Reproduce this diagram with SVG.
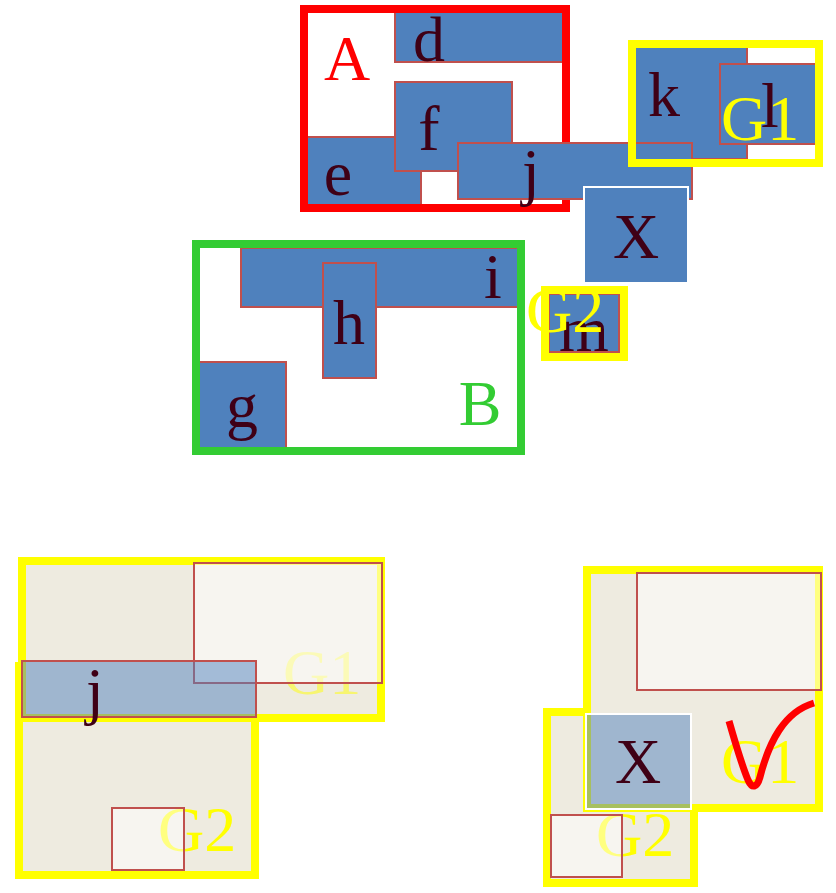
<svg xmlns="http://www.w3.org/2000/svg" width="836" height="893" viewBox="0 0 836 893">
  <style>
    .lbl { font-family: "Liberation Serif", "Times New Roman", serif; font-size: 64px; }
    .node { fill: #4f81bd; stroke: #c0504d; stroke-width: 2; }
    .nodex { fill: #4f81bd; stroke: #ffffff; stroke-width: 2; }
    .ink { fill: #3f0016; text-anchor: middle; }
    .ylw { fill: #ffff00; }
    .frame { fill: none; stroke-width: 8; }
    .region { fill: #eeebe0; stroke: #ffff00; stroke-width: 8; }
    .ghost { fill: #ffffff; fill-opacity: 0.5; stroke: #c0504d; stroke-width: 2; }
    .ghostb { fill: #4f81bd; fill-opacity: 0.5; stroke: #c0504d; stroke-width: 2; }
    .ghostx { fill: #4f81bd; fill-opacity: 0.5; stroke: #ffffff; stroke-width: 2; }
  </style>

  <!-- cluster A -->
  <g id="A">
    <rect id="d" class="node" x="395" y="12" width="168" height="50"/>
    <rect id="e" class="node" x="307" y="137" width="114" height="70"/>
    <rect id="f" class="node" x="395" y="82" width="117" height="89"/>
    <text class="lbl ink" x="429" y="61">d</text>
    <text class="lbl ink" x="429" y="150">f</text>
    <text class="lbl ink" x="338" y="195">e</text>
    <text class="lbl" x="347" y="80" fill="#ff0000" text-anchor="middle">A</text>
    <rect class="frame" x="304" y="9" width="262" height="199" stroke="#ff0000"/>
  </g>

  <!-- group G1 (top) -->
  <g id="G1">
    <rect id="k" class="node" x="634" y="46" width="113" height="113"/>
    <rect id="l" class="node" x="720" y="64" width="97" height="80"/>
    <text class="lbl ylw" x="721" y="140">G1</text>
    <text class="lbl ink" x="664" y="116">k</text>
    <text class="lbl ink" x="770" y="127">l</text>
  </g>

  <!-- node j, spans A and G1 -->
  <g id="j">
    <rect class="node" x="458" y="143" width="234" height="56"/>
    <text class="lbl ink" x="531" y="193">j</text>
  </g>

  <g id="G1-frame">
    <rect class="frame" x="632" y="44" width="187" height="119" stroke="#ffff00"/>
  </g>

  <!-- node X -->
  <g id="X">
    <rect class="nodex" x="584" y="187" width="104" height="96"/>
    <text class="lbl ink" x="636" y="258">X</text>
  </g>

  <!-- cluster B -->
  <g id="B">
    <rect id="i" class="node" x="241" y="248" width="280" height="59"/>
    <rect id="h" class="node" x="323" y="263" width="53" height="115"/>
    <rect id="g" class="node" x="198" y="362" width="88" height="88"/>
    <text class="lbl ink" x="493" y="298">i</text>
    <text class="lbl ink" x="349" y="344">h</text>
    <text class="lbl ink" x="242" y="427">g</text>
    <text class="lbl" x="480" y="425" fill="#33cc33" text-anchor="middle">B</text>
    <rect class="frame" x="196" y="244" width="325" height="207" stroke="#33cc33"/>
  </g>

  <!-- group G2 (top) -->
  <g id="G2">
    <rect id="m" class="node" x="549" y="294" width="70" height="58"/>
    <text class="lbl ink" x="584" y="351">m</text>
    <text class="lbl ylw" x="526" y="332">G2</text>
    <rect class="frame" x="545" y="290" width="79" height="67" stroke="#ffff00"/>
  </g>

  <!-- lower left: overlapping groups around j -->
  <g id="overlap-j">
    <rect class="region" x="19" y="666" width="236" height="209"/>
    <rect class="region" x="22" y="561" width="359" height="157"/>
    <text class="lbl" x="158" y="851" fill="#ffff00">G2</text>
    <text class="lbl" x="283" y="694" fill="#ffff00" fill-opacity="0.5">G1</text>
    <rect class="ghost" x="194" y="563" width="188" height="120"/>
    <rect class="ghostb" x="22" y="661" width="234" height="56"/>
    <rect class="ghost" x="112" y="808" width="72" height="62"/>
    <text class="lbl ink" x="95" y="712">j</text>
  </g>

  <!-- lower right: overlapping groups around X -->
  <g id="overlap-X">
    <rect class="region" x="547" y="712" width="147" height="171"/>
    <rect class="region" x="587" y="570" width="232" height="238"/>
    <text class="lbl" x="596" y="856" fill="#ffff00">G2</text>
    <rect class="ghost" x="637" y="573" width="184" height="117"/>
    <rect class="ghostx" x="586" y="714" width="105" height="95"/>
    <rect class="ghost" x="551" y="815" width="71" height="62"/>
    <text class="lbl ink" x="638" y="783">X</text>
    <text class="lbl ylw" x="721" y="783">G1</text>
    <path id="check" d="M 729 721 C 735 742 743 768 748 780 C 752 789 757 788 760 777 C 769 742 784 712 814 703" fill="none" stroke="#ff0000" stroke-width="7" stroke-linecap="butt"/>
  </g>
</svg>
